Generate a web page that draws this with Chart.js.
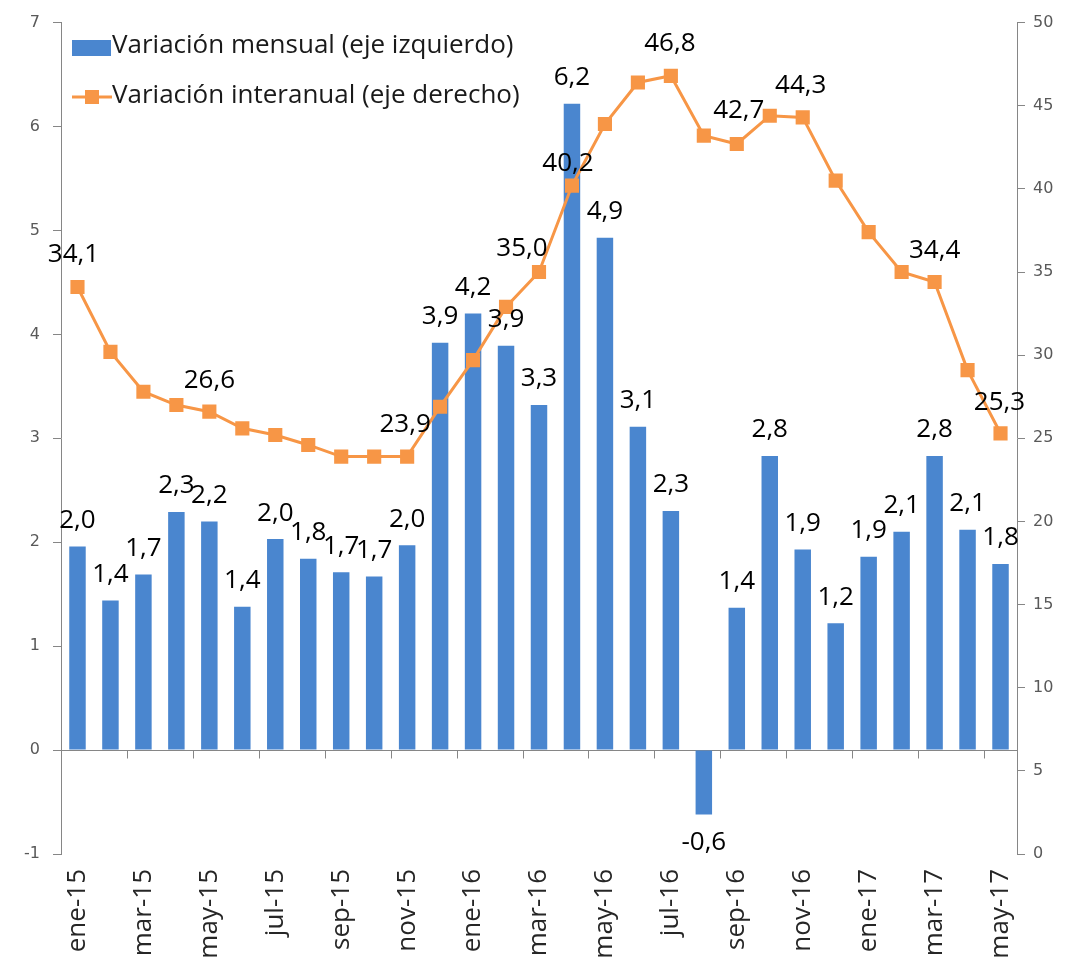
<!DOCTYPE html>
<html><head><meta charset="utf-8">
<script src="https://cdn.jsdelivr.net/npm/chart.js@4/dist/chart.umd.min.js"></script>
<style>html,body{margin:0;padding:0;background:#fff}#wrap{width:1068px;height:973px}</style>
</head><body><div id="wrap"><canvas id="c" width="1068" height="973"></canvas></div>
<script>
// ---- data ----
const categories = ['ene-15','feb-15','mar-15','abr-15','may-15','jun-15','jul-15','ago-15','sep-15','oct-15','nov-15','dic-15',
  'ene-16','feb-16','mar-16','abr-16','may-16','jun-16','jul-16','ago-16','sep-16','oct-16','nov-16','dic-16',
  'ene-17','feb-17','mar-17','abr-17','may-17'];
const mensual = [1.96,1.44,1.69,2.29,2.20,1.38,2.03,1.84,1.71,1.67,1.97,3.92,4.20,3.89,3.32,6.22,4.93,3.11,2.30,-0.62,1.37,2.83,1.93,1.22,1.86,2.10,2.83,2.12,1.79];
const interanual = [34.1,30.2,27.8,27.0,26.6,25.6,25.2,24.6,23.9,23.9,23.9,26.9,29.7,32.9,35.0,40.2,43.9,46.4,46.8,43.2,42.7,44.4,44.3,40.5,37.4,35.0,34.4,29.1,25.3];
const labeledInteranual = [0,4,10,14,15,18,20,22,26,28];
const leftTicks = [-1,0,1,2,3,4,5,6,7];
const rightTicks = [0,5,10,15,20,25,30,35,40,45,50];
const seriesNames = ['Variación mensual (eje izquierdo)','Variación interanual (eje derecho)'];

// ---- styles ----
const BLUE = '#4A86CF', ORANGE = '#F79646', AXIS = '#868686';
const LABEL_FONT = '26px "Open Sans"';
const lineLabelOffset = {0:[-4,-32],4:[0,-31],10:[-2,-32],14:[-17,-23],15:[-4,-22],18:[-1,-32],20:[2,-33],22:[-2,-32],26:[0,-31],28:[-1,-31]};
const fmt = v => v.toFixed(1).replace('.', ',');

const zeroAxis = {
  id:'zeroAxis',
  beforeDatasetsDraw(chart){
    const {ctx, chartArea:a, scales:{x, y}} = chart;
    const y0 = Math.round(y.getPixelForValue(0)) + 0.5;
    const step = x.getPixelForValue(1) - x.getPixelForValue(0);
    ctx.save();
    ctx.strokeStyle = AXIS; ctx.lineWidth = 1;
    ctx.beginPath(); ctx.moveTo(a.left, y0); ctx.lineTo(a.right, y0);
    for (let i = 0; i <= categories.length; i += 2) {
      const px = Math.round(x.getPixelForValue(i) - step/2) + 0.5;
      ctx.moveTo(px, y0); ctx.lineTo(px, y0 + 8);
    }
    ctx.stroke(); ctx.restore();
  }
};

const valueLabels = {
  id:'valueLabels',
  afterDatasetsDraw(chart){
    const ctx = chart.ctx;
    ctx.save();
    ctx.font = LABEL_FONT; ctx.fillStyle = '#000';
    ctx.textAlign = 'center'; ctx.textBaseline = 'middle';
    chart.getDatasetMeta(0).data.forEach((el, i) => {
      const v = mensual[i];
      ctx.fillText(fmt(v), el.x, v >= 0 ? el.y - 26 : el.y + 28);
    });
    const lm = chart.getDatasetMeta(1).data;
    labeledInteranual.forEach(i => {
      const o = lineLabelOffset[i] || [0,-32];
      ctx.fillText(fmt(interanual[i]), lm[i].x + o[0], lm[i].y + o[1]);
    });
    ctx.restore();
  }
};

const legendBox = {
  id:'legendBox',
  afterDraw(chart){
    const ctx = chart.ctx;
    ctx.save();
    ctx.font = LABEL_FONT;
    ctx.textAlign = 'left'; ctx.textBaseline = 'middle';
    ctx.fillStyle = BLUE; ctx.fillRect(72, 40, 39, 16);
    ctx.fillStyle = '#1a1a1a'; ctx.fillText(chart.data.datasets[0].label, 112, 46);
    ctx.strokeStyle = ORANGE; ctx.lineWidth = 3;
    ctx.beginPath(); ctx.moveTo(72, 97); ctx.lineTo(112, 97); ctx.stroke();
    ctx.fillStyle = ORANGE; ctx.fillRect(85, 90, 14, 14);
    ctx.fillStyle = '#1a1a1a'; ctx.fillText(chart.data.datasets[1].label, 112, 96);
    ctx.restore();
  }
};

new Chart(document.getElementById('c'), {
  data: {
    labels: categories,
    datasets: [
      { type:'bar', label: seriesNames[0], data: mensual, yAxisID:'y', backgroundColor: BLUE,
        categoryPercentage: 1.0, barPercentage: 0.5, order: 2 },
      { type:'line', label: seriesNames[1], data: interanual, yAxisID:'y2', borderColor: ORANGE, backgroundColor: ORANGE,
        borderWidth: 3, pointStyle:'rect', pointRadius: 10, pointBorderWidth: 0, pointBackgroundColor: ORANGE,
        tension: 0, order: 1 }
    ]
  },
  options: {
    responsive:false, animation:false, devicePixelRatio:1,
    layout:{ padding:{ top:20, left:0, right:0, bottom:0 } },
    plugins:{ legend:{display:false}, tooltip:{enabled:false} },
    scales:{
      x:{
        offset:true,
        grid:{ display:false, drawTicks:false },
        border:{ display:false },
        ticks:{ autoSkip:false, maxRotation:90, minRotation:90, padding:15,
          font:{ family:'"Open Sans"', size:26 }, color:'#262626',
          callback:(v, i) => i % 2 === 0 ? categories[i] : '' },
        afterFit(s){ s.height = 119; }
      },
      y:{
        position:'left', min:-1, max:7,
        afterBuildTicks(s){ s.ticks = leftTicks.map(v => ({value:v})); },
        grid:{ drawOnChartArea:false, drawTicks:true, tickLength:8, color:AXIS },
        border:{ display:true, color:AXIS },
        ticks:{ padding:13, font:{ family:'"DejaVu Sans"', size:16 }, color:'#595959' },
        afterFit(s){ s.width = 61; }
      },
      y2:{
        position:'right', min:0, max:50,
        afterBuildTicks(s){ s.ticks = rightTicks.map(v => ({value:v})); },
        grid:{ drawOnChartArea:false, drawTicks:true, tickLength:8, color:AXIS },
        border:{ display:true, color:AXIS },
        ticks:{ padding:8, font:{ family:'"DejaVu Sans"', size:16 }, color:'#595959' },
        afterFit(s){ s.width = 51; }
      }
    }
  },
  plugins:[zeroAxis, valueLabels, legendBox]
});
</script></body></html>
